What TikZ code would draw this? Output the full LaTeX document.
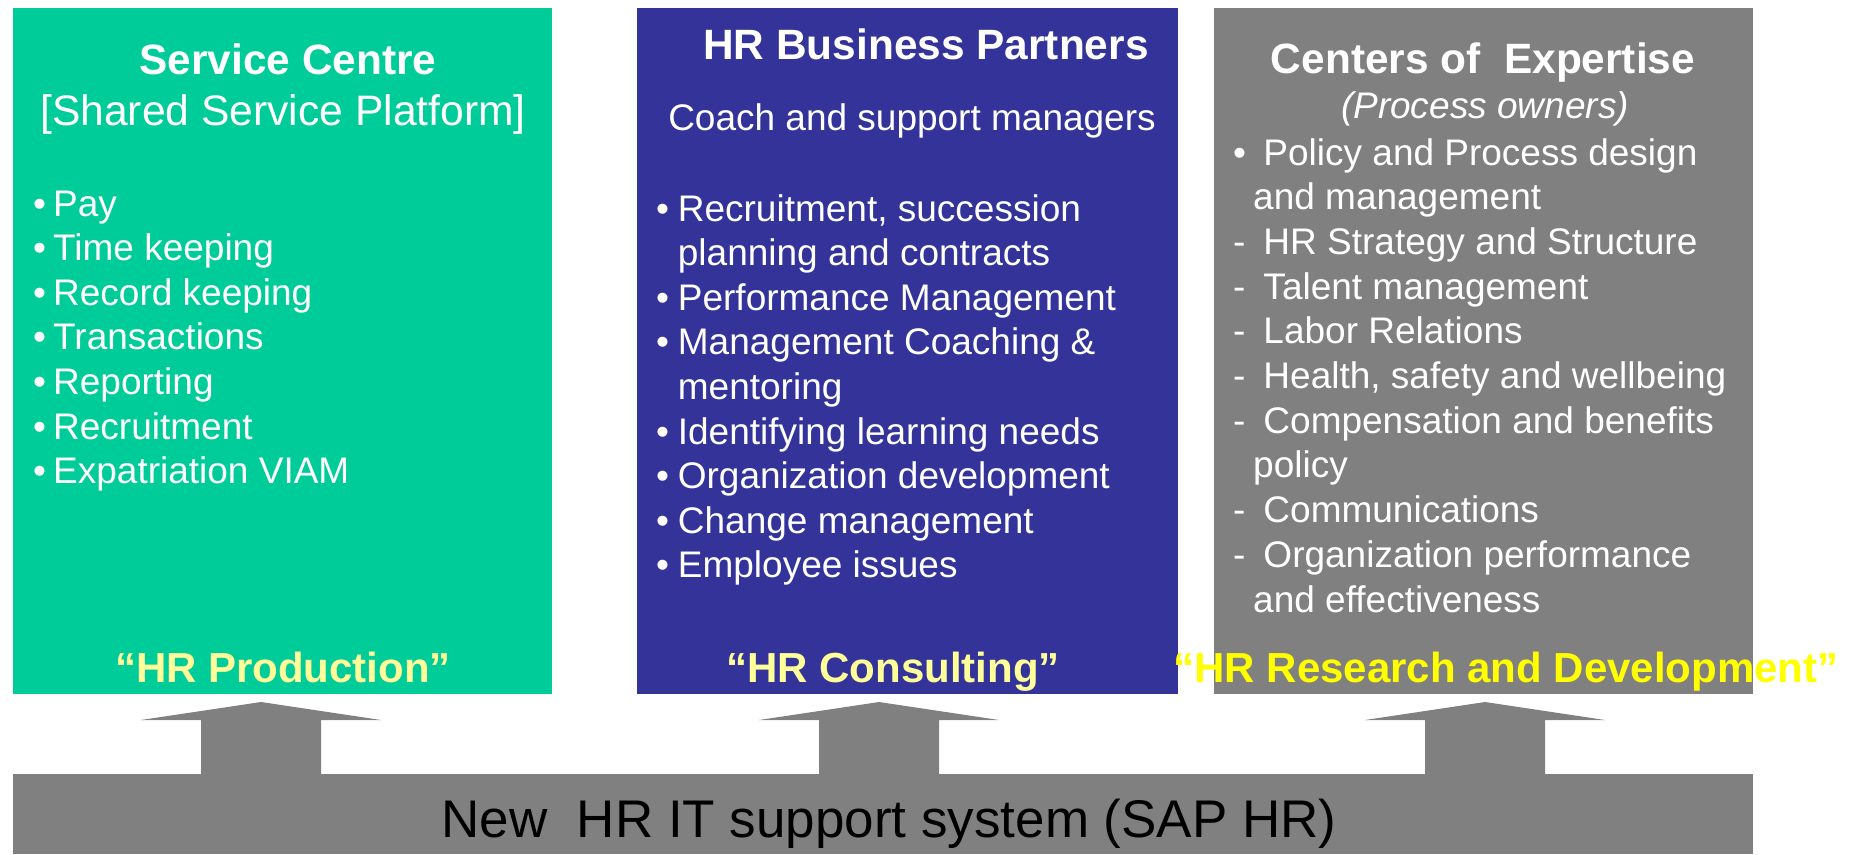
\documentclass[tikz,border=0pt]{standalone}
\usepackage{fontspec}
\setmainfont{Liberation Sans}

\definecolor{service}{HTML}{00CC99}
\definecolor{partner}{HTML}{333399}
\definecolor{expert}{HTML}{808080}
\definecolor{lemon}{HTML}{FFFF99}
\definecolor{canary}{HTML}{FFFF00}

\tikzset{
  panel/.style={fill=#1, inner sep=0pt, anchor=north west,
    minimum width=539pt, minimum height=686pt},
  title/.style={text=white, inner sep=0pt, anchor=base,
    font=\bfseries\fontsize{42.4}{50}\selectfont},
  subtitle/.style={text=white, inner sep=0pt, anchor=base,
    font=\fontsize{#1}{50}\selectfont},
  entry/.style={text=white, inner sep=0pt, anchor=base west,
    font=\fontsize{37}{44}\selectfont},
  motto/.style={text=#1, inner sep=0pt, anchor=base,
    font=\bfseries\fontsize{42}{50}\selectfont},
}

\begin{document}
\begin{tikzpicture}[x=1pt, y=-1pt]
  \useasboundingbox (0,0) rectangle (1854,854);

  % three columns and the platform below them
  \node[panel=service] (centre) at (13,8) {};
  \node[panel=partner, minimum width=541pt] (partners) at (637,8) {};
  \node[panel=expert] (experts) at (1214,8) {};
  \node[panel=expert, minimum width=1740pt, minimum height=80pt] (platform) at (13,774) {};

  % block arrows from the platform up to each column
  \foreach \x in {261,879,1485}
    \fill[expert] (\x,775) -- ++(-60,0) -- ++(0,-55) -- ++(-60,0) -- ++(120,-18)
      -- ++(120,18) -- ++(-60,0) -- ++(0,55) -- cycle;

  % headings
  \node[title] (centre-t) at (288,74) {Service Centre};
  \node[subtitle=42.6] (centre-s) at (283,125) {[Shared Service Platform]};
  \node[title] (partners-t) at (926,59) {HR Business Partners};
  \node[subtitle=37] (partners-s) at (912,130) {Coach and support managers};
  \node[title] (experts-t) at (1483,73) {Centers of\ \ Expertise};
  \node[subtitle=37] (experts-s) at (1485,118) {\itshape (Process owners)};

  % lists
  \foreach \sym/\txt [count=\i] in {•/Pay, •/Time keeping, •/Record keeping,
      •/Transactions, •/Reporting, •/Recruitment, •/Expatriation VIAM}
    \node[entry] (centre-\i) at (33,216+44.6*\i-44.6) {\makebox[20pt][l]{\sym}\txt};

  \foreach \sym/\txt [count=\i] in {•/{Recruitment, succession},
      /planning and contracts, •/Performance Management,
      •/Management Coaching \&, /mentoring, •/Identifying learning needs,
      •/Organization development, •/Change management, •/Employee issues}
    \node[entry] (partners-\i) at (656,221+44.6*\i-44.6) {\makebox[21.7pt][l]{\sym}\txt};

  \foreach \sym/\txt [count=\i] in {•/\ Policy and Process design,
      /and management, -/\ HR Strategy and Structure, -/\ Talent management,
      -/\ Labor Relations, -/{\ Health, safety and wellbeing},
      -/\ Compensation and benefits, /policy, -/\ Communications,
      -/\ Organization performance, /and effectiveness}
    \node[entry] (experts-\i) at (1233,165+44.7*\i-44.7) {\makebox[20pt][l]{\sym}\txt};

  % what each column stands for
  \node[motto=lemon] (centre-m) at (283,682) {“HR Production”};
  \node[motto=lemon] (partners-m) at (893,682) {“HR Consulting”};
  \node[motto=canary] (experts-m) at (1506,682) {“HR Research and Development”};

  \node[anchor=base, inner sep=0pt, font=\fontsize{53}{60}\selectfont]
    (platform-t) at (889,837) {New\ \ HR IT support system (SAP HR)};
\end{tikzpicture}
\end{document}
